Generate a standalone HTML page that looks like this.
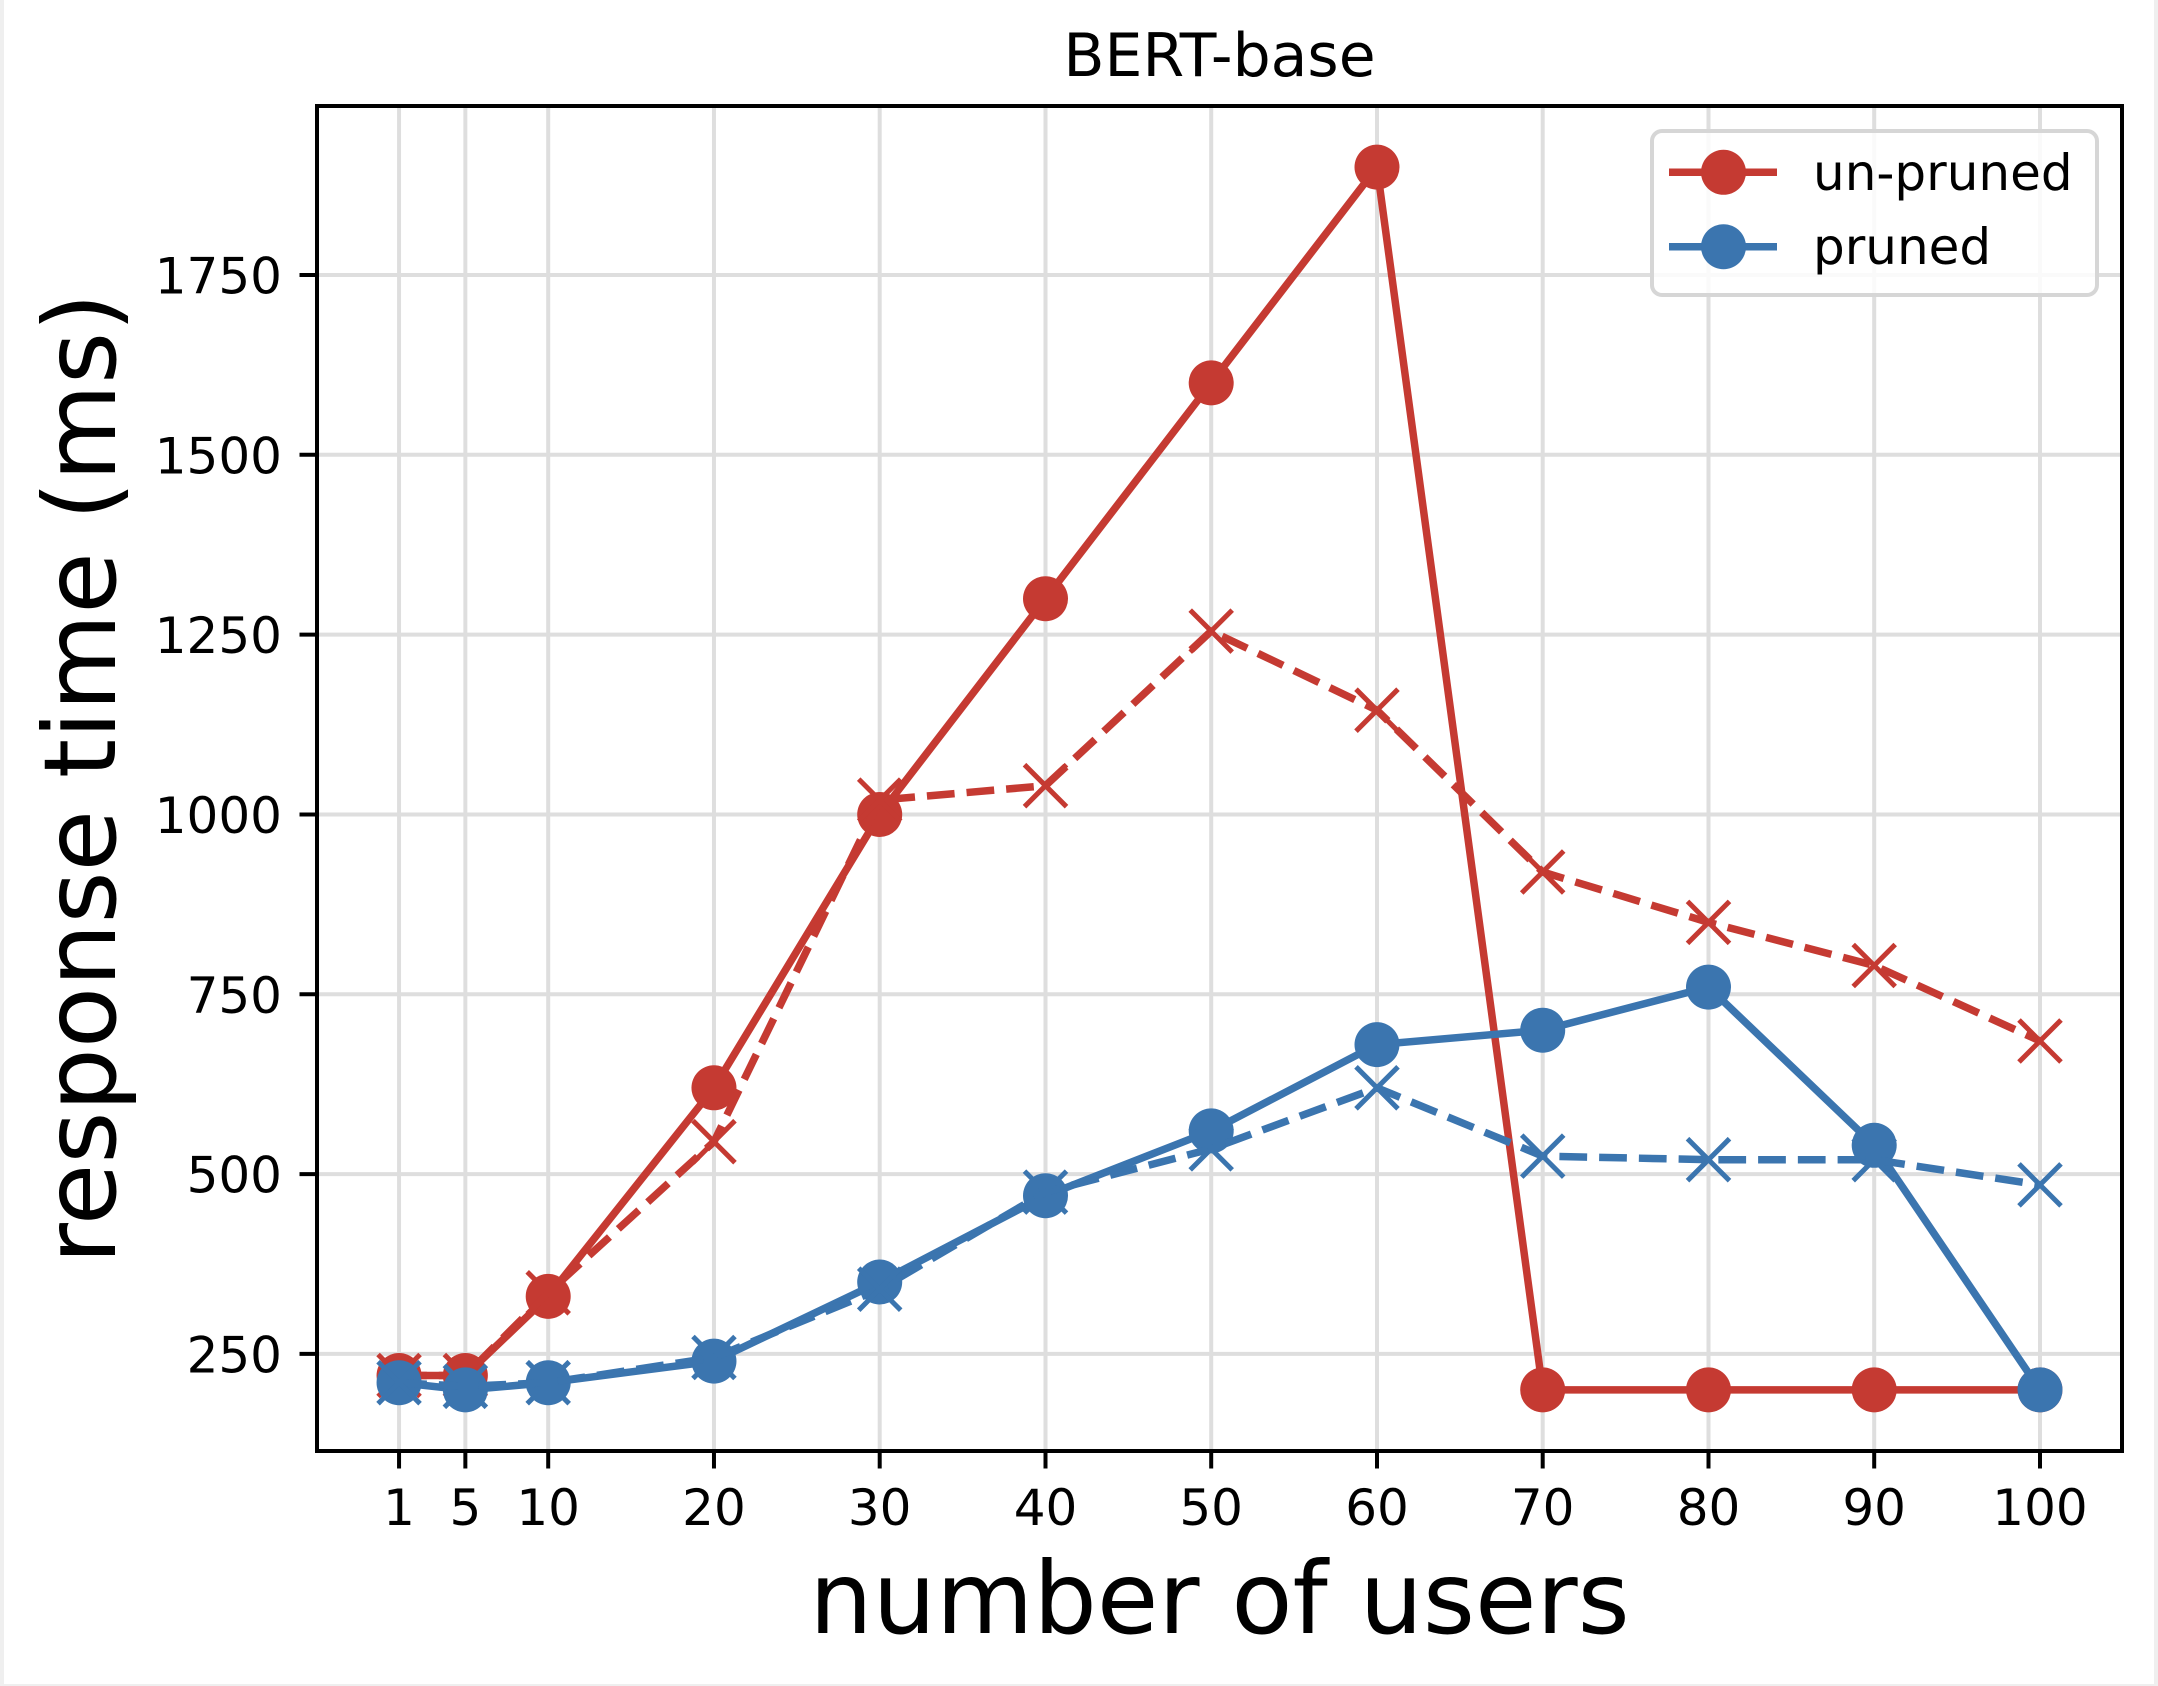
<!DOCTYPE html>
<html>
<head>
<meta charset="utf-8">
<style>
html,body{margin:0;padding:0;background:#fff;}
svg{display:block;}
text{font-family:"DejaVu Sans","Liberation Sans",sans-serif;fill:#000;}
</style>
</head>
<body>
<svg width="2158" height="1686" viewBox="0 0 2158 1686" xmlns="http://www.w3.org/2000/svg">
<rect x="0" y="0" width="2158" height="1686" fill="#ffffff"/>
<!-- light frame -->
<rect x="0" y="0" width="4" height="1686" fill="#efefef"/>
<rect x="2154" y="0" width="4" height="1686" fill="#efefef"/>
<rect x="0" y="1684" width="2158" height="2" fill="#efefef"/>

<!-- grid -->
<g stroke="#dedede" stroke-width="4">
<line x1="399.05" y1="106" x2="399.05" y2="1451"/>
<line x1="465.35" y1="106" x2="465.35" y2="1451"/>
<line x1="548.2" y1="106" x2="548.2" y2="1451"/>
<line x1="713.97" y1="106" x2="713.97" y2="1451"/>
<line x1="879.7" y1="106" x2="879.7" y2="1451"/>
<line x1="1045.5" y1="106" x2="1045.5" y2="1451"/>
<line x1="1211.2" y1="106" x2="1211.2" y2="1451"/>
<line x1="1377.0" y1="106" x2="1377.0" y2="1451"/>
<line x1="1542.7" y1="106" x2="1542.7" y2="1451"/>
<line x1="1708.5" y1="106" x2="1708.5" y2="1451"/>
<line x1="1874.2" y1="106" x2="1874.2" y2="1451"/>
<line x1="2040.0" y1="106" x2="2040.0" y2="1451"/>
<line x1="317" y1="1353.9" x2="2122" y2="1353.9"/>
<line x1="317" y1="1174.1" x2="2122" y2="1174.1"/>
<line x1="317" y1="994.3" x2="2122" y2="994.3"/>
<line x1="317" y1="814.5" x2="2122" y2="814.5"/>
<line x1="317" y1="634.6" x2="2122" y2="634.6"/>
<line x1="317" y1="454.8" x2="2122" y2="454.8"/>
<line x1="317" y1="275.0" x2="2122" y2="275.0"/>
</g>

<!-- red solid (un-pruned) -->
<g fill="#c53a32">
<polyline fill="none" stroke="#c53a32" stroke-width="7.5" stroke-linejoin="round" points="399.05,1375.5 465.35,1375.5 548.2,1296.4 713.97,1087.8 879.7,814.5 1045.5,598.7 1211.2,382.9 1377.0,167.1 1542.7,1389.9 1708.5,1389.9 1874.2,1389.9 2040.0,1389.9"/>
<circle cx="399.05" cy="1375.5" r="22.5"/>
<circle cx="465.35" cy="1375.5" r="22.5"/>
<circle cx="548.2" cy="1296.4" r="22.5"/>
<circle cx="713.97" cy="1087.8" r="22.5"/>
<circle cx="879.7" cy="814.5" r="22.5"/>
<circle cx="1045.5" cy="598.7" r="22.5"/>
<circle cx="1211.2" cy="382.9" r="22.5"/>
<circle cx="1377.0" cy="167.1" r="22.5"/>
<circle cx="1542.7" cy="1389.9" r="22.5"/>
<circle cx="1708.5" cy="1389.9" r="22.5"/>
<circle cx="1874.2" cy="1389.9" r="22.5"/>
<circle cx="2040.0" cy="1389.9" r="22.5"/>
</g>

<!-- red dashed -->
<polyline fill="none" stroke="#c53a32" stroke-width="7.5" stroke-dasharray="27.75 12" stroke-linejoin="round" points="399.05,1375.5 465.35,1375.5 548.2,1292.8 713.97,1141.7 879.7,800.1 1045.5,785.7 1211.2,631.1 1377.0,710.2 1542.7,872.0 1708.5,922.4 1874.2,965.5 2040.0,1041.0"/>
<g stroke="#c53a32" stroke-width="5" fill="none">
<path d="M378.05,1354.5 l42,42 M378.05,1396.5 l42,-42"/>
<path d="M444.35,1354.5 l42,42 M444.35,1396.5 l42,-42"/>
<path d="M527.2,1271.8 l42,42 M527.2,1313.8 l42,-42"/>
<path d="M692.97,1120.7 l42,42 M692.97,1162.7 l42,-42"/>
<path d="M858.7,779.1 l42,42 M858.7,821.1 l42,-42"/>
<path d="M1024.5,764.7 l42,42 M1024.5,806.7 l42,-42"/>
<path d="M1190.2,610.1 l42,42 M1190.2,652.1 l42,-42"/>
<path d="M1356.0,689.2 l42,42 M1356.0,731.2 l42,-42"/>
<path d="M1521.7,851.0 l42,42 M1521.7,893.0 l42,-42"/>
<path d="M1687.5,901.4 l42,42 M1687.5,943.4 l42,-42"/>
<path d="M1853.2,944.5 l42,42 M1853.2,986.5 l42,-42"/>
<path d="M2019.0,1020.0 l42,42 M2019.0,1062.0 l42,-42"/>
</g>

<!-- blue solid (pruned) -->
<g fill="#3b75af">
<polyline fill="none" stroke="#3b75af" stroke-width="7.5" stroke-linejoin="round" points="399.05,1382.7 465.35,1389.9 548.2,1382.7 713.97,1361.1 879.7,1282.0 1045.5,1195.7 1211.2,1130.9 1377.0,1044.6 1542.7,1030.2 1708.5,987.1 1874.2,1145.3 2040.0,1389.9"/>
<circle cx="399.05" cy="1382.7" r="22.5"/>
<circle cx="465.35" cy="1389.9" r="22.5"/>
<circle cx="548.2" cy="1382.7" r="22.5"/>
<circle cx="713.97" cy="1361.1" r="22.5"/>
<circle cx="879.7" cy="1282.0" r="22.5"/>
<circle cx="1045.5" cy="1195.7" r="22.5"/>
<circle cx="1211.2" cy="1130.9" r="22.5"/>
<circle cx="1377.0" cy="1044.6" r="22.5"/>
<circle cx="1542.7" cy="1030.2" r="22.5"/>
<circle cx="1708.5" cy="987.1" r="22.5"/>
<circle cx="1874.2" cy="1145.3" r="22.5"/>
<circle cx="2040.0" cy="1389.9" r="22.5"/>
</g>

<!-- blue dashed -->
<polyline fill="none" stroke="#3b75af" stroke-width="7.5" stroke-dasharray="27.75 12" stroke-linejoin="round" points="399.05,1382.7 465.35,1386.3 548.2,1382.7 713.97,1357.5 879.7,1289.2 1045.5,1192.1 1211.2,1148.9 1377.0,1087.8 1542.7,1156.1 1708.5,1159.7 1874.2,1159.7 2040.0,1184.9"/>
<g stroke="#3b75af" stroke-width="5" fill="none">
<path d="M378.05,1361.7 l42,42 M378.05,1403.7 l42,-42"/>
<path d="M444.35,1365.3 l42,42 M444.35,1407.3 l42,-42"/>
<path d="M527.2,1361.7 l42,42 M527.2,1403.7 l42,-42"/>
<path d="M692.97,1336.5 l42,42 M692.97,1378.5 l42,-42"/>
<path d="M858.7,1268.2 l42,42 M858.7,1310.2 l42,-42"/>
<path d="M1024.5,1171.1 l42,42 M1024.5,1213.1 l42,-42"/>
<path d="M1190.2,1127.9 l42,42 M1190.2,1169.9 l42,-42"/>
<path d="M1356.0,1066.8 l42,42 M1356.0,1108.8 l42,-42"/>
<path d="M1521.7,1135.1 l42,42 M1521.7,1177.1 l42,-42"/>
<path d="M1687.5,1138.7 l42,42 M1687.5,1180.7 l42,-42"/>
<path d="M1853.2,1138.7 l42,42 M1853.2,1180.7 l42,-42"/>
<path d="M2019.0,1163.9 l42,42 M2019.0,1205.9 l42,-42"/>
</g>

<!-- spines -->
<rect x="317" y="106" width="1805" height="1345" fill="none" stroke="#000" stroke-width="4"/>

<!-- ticks -->
<g stroke="#000" stroke-width="4">
<line x1="399.05" y1="1451" x2="399.05" y2="1468.5"/>
<line x1="465.35" y1="1451" x2="465.35" y2="1468.5"/>
<line x1="548.2" y1="1451" x2="548.2" y2="1468.5"/>
<line x1="713.97" y1="1451" x2="713.97" y2="1468.5"/>
<line x1="879.7" y1="1451" x2="879.7" y2="1468.5"/>
<line x1="1045.5" y1="1451" x2="1045.5" y2="1468.5"/>
<line x1="1211.2" y1="1451" x2="1211.2" y2="1468.5"/>
<line x1="1377.0" y1="1451" x2="1377.0" y2="1468.5"/>
<line x1="1542.7" y1="1451" x2="1542.7" y2="1468.5"/>
<line x1="1708.5" y1="1451" x2="1708.5" y2="1468.5"/>
<line x1="1874.2" y1="1451" x2="1874.2" y2="1468.5"/>
<line x1="2040.0" y1="1451" x2="2040.0" y2="1468.5"/>
<line x1="299.5" y1="1353.9" x2="317" y2="1353.9"/>
<line x1="299.5" y1="1174.1" x2="317" y2="1174.1"/>
<line x1="299.5" y1="994.3" x2="317" y2="994.3"/>
<line x1="299.5" y1="814.5" x2="317" y2="814.5"/>
<line x1="299.5" y1="634.6" x2="317" y2="634.6"/>
<line x1="299.5" y1="454.8" x2="317" y2="454.8"/>
<line x1="299.5" y1="275.0" x2="317" y2="275.0"/>
</g>

<!-- tick labels -->
<g font-size="50" text-anchor="middle">
<text x="399.05" y="1525">1</text>
<text x="465.35" y="1525">5</text>
<text x="548.2" y="1525">10</text>
<text x="713.97" y="1525">20</text>
<text x="879.7" y="1525">30</text>
<text x="1045.5" y="1525">40</text>
<text x="1211.2" y="1525">50</text>
<text x="1377.0" y="1525">60</text>
<text x="1542.7" y="1525">70</text>
<text x="1708.5" y="1525">80</text>
<text x="1874.2" y="1525">90</text>
<text x="2040.0" y="1525">100</text>
</g>
<g font-size="50" text-anchor="end">
<text x="282" y="1372.4">250</text>
<text x="282" y="1192.6">500</text>
<text x="282" y="1012.8">750</text>
<text x="282" y="833.0">1000</text>
<text x="282" y="653.1">1250</text>
<text x="282" y="473.3">1500</text>
<text x="282" y="293.5">1750</text>
</g>

<!-- labels -->
<text x="1219.5" y="76" font-size="60" text-anchor="middle">BERT-base</text>
<text x="1219.5" y="1633" font-size="100" text-anchor="middle">number of users</text>
<text transform="translate(115,778.5) rotate(-90)" x="0" y="0" font-size="100" text-anchor="middle">response time (ms)</text>

<!-- legend -->
<rect x="1652" y="131" width="445" height="164" rx="10" ry="10" fill="#ffffff" fill-opacity="0.85" stroke="#d6d6d6" stroke-width="4"/>
<line x1="1669" y1="172.3" x2="1777" y2="172.3" stroke="#c53a32" stroke-width="7.5"/>
<circle cx="1723.5" cy="172.3" r="22.5" fill="#c53a32"/>
<line x1="1669" y1="246.7" x2="1777" y2="246.7" stroke="#3b75af" stroke-width="7.5"/>
<circle cx="1723.5" cy="246.7" r="22.5" fill="#3b75af"/>
<text x="1813" y="190" font-size="50">un-pruned</text>
<text x="1813" y="264" font-size="50">pruned</text>
</svg>
</body>
</html>
